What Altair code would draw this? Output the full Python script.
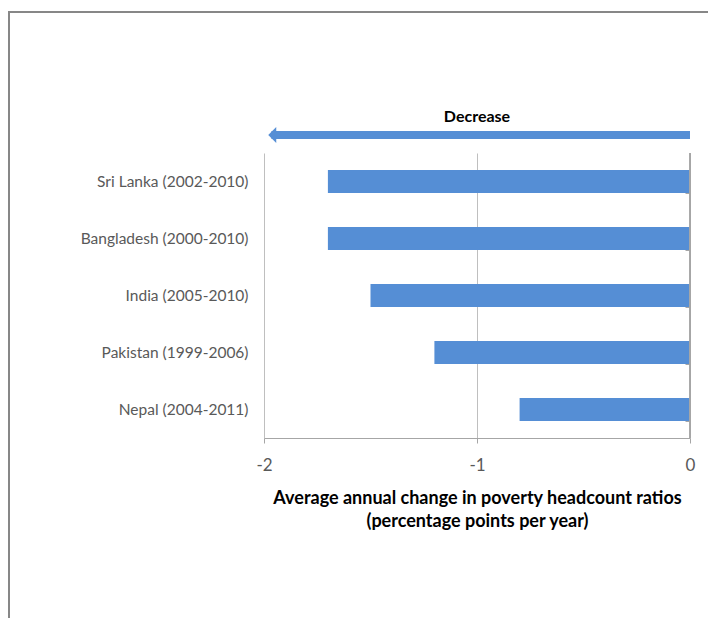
import altair as alt
import pandas as pd

countries = [
    "Sri Lanka (2002-2010)",
    "Bangladesh (2000-2010)",
    "India (2005-2010)",
    "Pakistan (1999-2006)",
    "Nepal (2004-2011)",
]
changes = [-1.7, -1.7, -1.5, -1.2, -0.8]
x_ticks = [-2, -1, 0]
arrow_label = "Decrease"
x_title = ["Average annual change in poverty headcount ratios", "(percentage points per year)"]

df = pd.DataFrame({"country": countries, "change": changes})

FONT = "Lato"
BLUE = "#558ED5"
GRID = "#BFBFBF"
AXIS = "#A6A6A6"
LABEL = "#595959"

x_scale = alt.Scale(domain=[-2, 0], nice=False)
y_scale = alt.Scale(domain=countries, paddingInner=0.6, paddingOuter=0.3)

bars = alt.Chart(df).mark_bar(color=BLUE).encode(
    x=alt.X("change:Q", scale=x_scale,
            axis=alt.Axis(values=x_ticks, title=x_title, grid=True, gridColor=GRID,
                          domainColor=AXIS, tickColor=AXIS, tickSize=5,
                          labelExpr="'' + datum.value", labelFlush=False,
                          labelFont=FONT, labelFontSize=17, labelColor=LABEL, labelPadding=14,
                          titleFont=FONT, titleFontSize=18, titleFontWeight="bold",
                          titleColor="black", titleLineHeight=23, titlePadding=16)),
    x2=alt.datum(0),
    y=alt.Y("country:N", scale=y_scale, sort=countries,
            axis=alt.Axis(orient="left", title=None, domain=False, ticks=False, tickSize=0,
                          grid=False, labelFont=FONT, labelFontSize=15.5, labelColor=LABEL,
                          labelPadding=16)),
)

# category ticks at the zero line, pointing inward
cat_ticks = alt.Chart(df).mark_tick(opacity=0).encode(
    y=alt.Y("country:N", scale=y_scale, sort=countries,
            axis=alt.Axis(orient="right", title=None, domain=False, labels=False,
                          ticks=True, tickBand="extent", tickSize=5, tickColor=AXIS,
                          offset=-5, grid=False)),
)

zero_line = alt.Chart(df).mark_rule(color=AXIS, strokeWidth=1).encode(x=alt.datum(0))

arrow_df = pd.DataFrame({"start": [0], "end": [-1.965], "tip": [-1.98], "mid": [-1.0], "label": [arrow_label]})

shaft = alt.Chart(arrow_df).mark_rule(color=BLUE, strokeWidth=8, strokeCap="butt").encode(
    x="start:Q", x2="end:Q", y=alt.value(-18)
)
head = alt.Chart(arrow_df).mark_point(
    shape="M 0 0 L 1 -1 L 1 1 Z", filled=True, color=BLUE, opacity=1, size=256
).encode(x="tip:Q", y=alt.value(-18))
arrow_text = alt.Chart(arrow_df).mark_text(
    font=FONT, fontSize=16, fontWeight="bold", color="black", baseline="middle", align="center"
).encode(x="mid:Q", y=alt.value(-36), text="label:N")

frame_left = alt.Chart(arrow_df).mark_rule(color="#878787", strokeWidth=2).encode(
    x=alt.value(-255), y=alt.value(-141), y2=alt.value(500)
)
frame_top = alt.Chart(arrow_df).mark_rule(color="#878787", strokeWidth=2).encode(
    x=alt.value(-256), x2=alt.value(480), y=alt.value(-141)
)

chart = alt.layer(
    bars, cat_ticks, zero_line, shaft, head, arrow_text, frame_left, frame_top
).resolve_scale(y="shared").resolve_axis(y="independent").properties(
    width=426, height=285,
    autosize=alt.AutoSizeParams(type="none"),
    padding={"left": 256, "top": 145, "right": 18, "bottom": 180},
    background="white",
).configure_view(stroke=None)

chart.save("out.html", embed_options={"renderer": "svg", "actions": False})
